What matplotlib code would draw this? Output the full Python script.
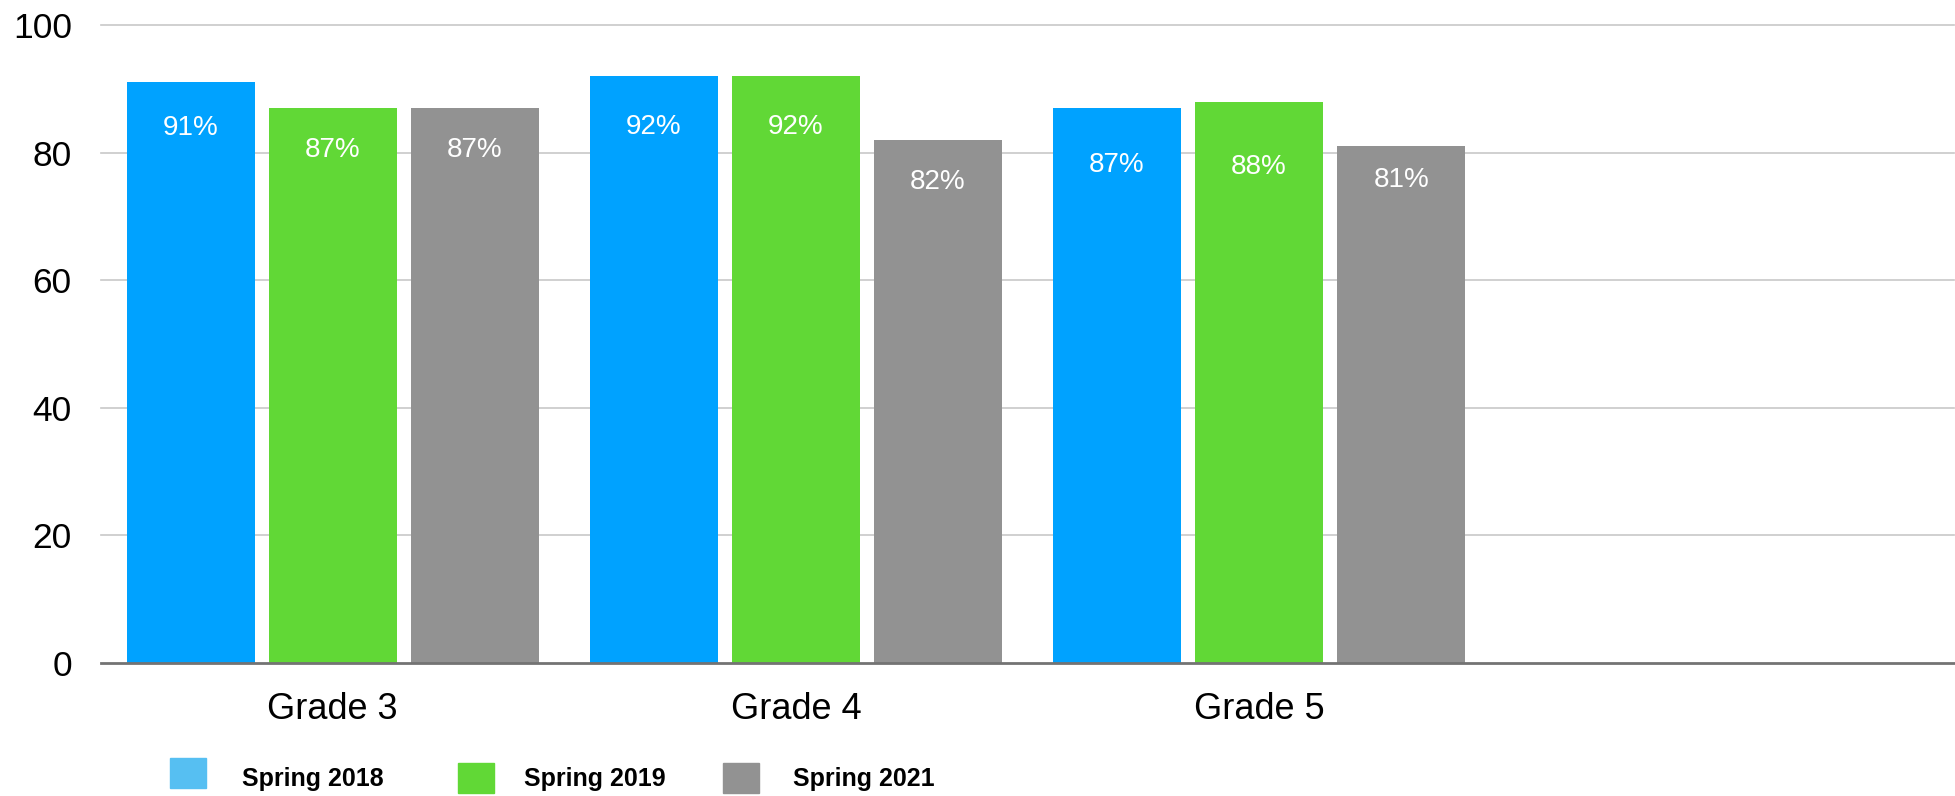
import matplotlib
matplotlib.use('Agg')
import matplotlib.pyplot as plt
import matplotlib.patches as patches
import numpy as np

# data
grades = ['Grade 3', 'Grade 4', 'Grade 5', '']
series = ['Spring 2018', 'Spring 2019', 'Spring 2021']
spring_2018 = [91, 92, 87]
spring_2019 = [87, 92, 88]
spring_2021 = [87, 82, 81]
yticks = [0, 20, 40, 60, 80, 100]

# style
bar_colors = ['#00A2FF', '#61D836', '#929292']
swatch_colors = ['#56BFF2', '#61D836', '#929292']
# label centre below bar top, in pixels (Keynote places them unevenly)
label_drop = [[46, 51, 57], [42, 51, 65], [42, 42, 34]]

plt.rcParams['font.family'] = ['Liberation Sans', 'DejaVu Sans']

W, H = 1955, 796
fig = plt.figure(figsize=(W / 100, H / 100), dpi=100)
ax = fig.add_axes([101 / W, 1 - 663 / H, 1853 / W, 638 / H])

values = [spring_2018, spring_2019, spring_2021]
x = np.arange(len(grades[:3]))
bw = 128 / 463
step = 142 / 463
for i, vals in enumerate(values):
    xs = x + (i - 1) * step
    ax.bar(xs, vals, width=bw, color=bar_colors[i], zorder=2)
    for j, (xx, v) in enumerate(zip(xs, vals)):
        ax.annotate(f'{v}%', (xx, v), xytext=(0, -label_drop[i][j]),
                    textcoords='offset pixels', color='white', fontsize=20,
                    ha='center', va='center', zorder=3)

ax.set_xlim(-0.5, len(grades) - 0.5)
ax.set_ylim(0, 100)
ax.set_yticks(yticks)
ax.set_xticks(np.arange(len(grades)))
ax.set_xticklabels(grades)
ax.tick_params(axis='y', length=0, pad=21, labelsize=25.5)
ax.tick_params(axis='x', length=0, pad=21, labelsize=26)
for s in ['top', 'right', 'left']:
    ax.spines[s].set_visible(False)
ax.spines['bottom'].set_color('#737373')
ax.spines['bottom'].set_linewidth(2)
ax.spines['bottom'].set_zorder(4)
for t in yticks[1:]:
    ax.axhline(t, color='#c8c8c8', lw=1.2, zorder=1, clip_on=False)

# legend drawn by hand
legend_items = [(170, 758, 242), (458, 763, 524), (723, 763, 793)]
for (sx, sy, tx), name, c in zip(legend_items, series, swatch_colors):
    fig.patches.append(patches.Rectangle((sx / W, 1 - (sy + 30) / H), 36 / W, 30 / H,
                                         color=c, transform=fig.transFigure, figure=fig))
    fig.text(tx / W, 1 - 779 / H, name, fontsize=18, fontweight='bold',
             ha='left', va='center')

fig.savefig('out.png', dpi=100)
